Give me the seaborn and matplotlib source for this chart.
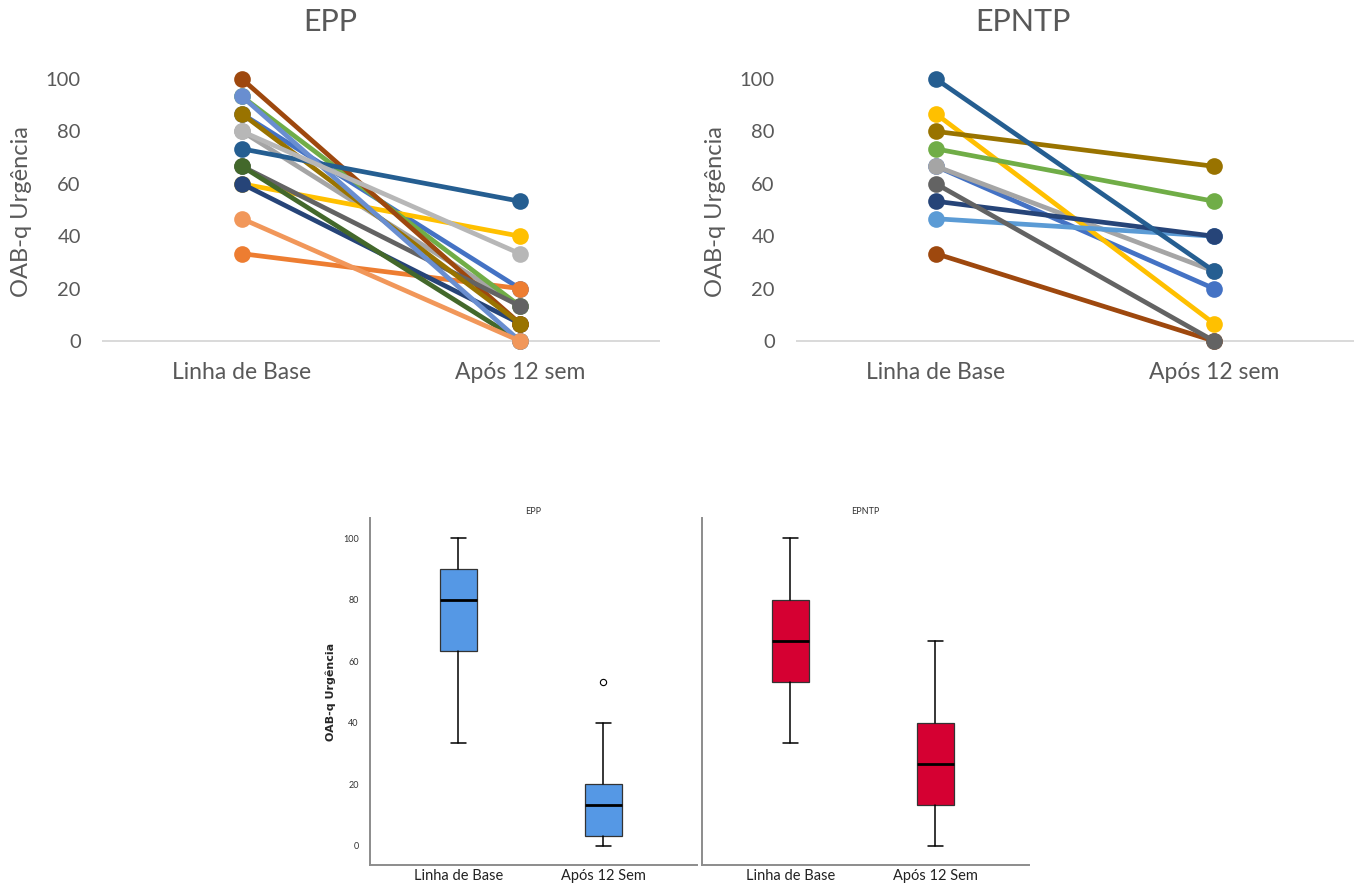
import matplotlib
matplotlib.use("Agg")
import matplotlib.pyplot as plt
import numpy as np
import pandas as pd
import seaborn as sns

sns.set_theme(style="white")
plt.rcParams["font.family"] = ["Lato", "DejaVu Sans"]

W, H = 1356, 886

# ── Dados: gráficos de linhas (um valor por participante) ─────────────────────
tempos = ["Linha de Base", "Após 12 sem"]

epp_base = [86.67, 33.33, 80, 60, 93.33, 60, 100, 66.67, 86.67, 73.33, 66.67, 93.33, 46.67, 80]
epp_12 = [20, 20, 13.33, 40, 13.33, 6.67, 6.67, 13.33, 6.67, 53.33, 0, 0, 0, 33.33]
epp_cores = ["#4472C4", "#ED7D31", "#A5A5A5", "#FFC000", "#70AD47", "#264478", "#9E480E",
             "#636363", "#997300", "#255E91", "#43682B", "#698ED0", "#F1975A", "#B7B7B7"]

epntp_base = [66.67, 66.67, 86.67, 46.67, 73.33, 53.33, 33.33, 60, 80, 100]
epntp_12 = [20, 26.67, 6.67, 40, 53.33, 40, 0, 0, 66.67, 26.67]
epntp_cores = ["#4472C4", "#A5A5A5", "#FFC000", "#5B9BD5", "#70AD47", "#264478", "#9E480E",
               "#636363", "#997300", "#255E91"]

# ── Dados: boxplots (estatísticas) ────────────────────────────────────────────
box_tempos = ["Linha de Base", "Após 12 Sem"]
epp_med = [80, 13.33]
epp_q1 = [63.33, 3.33]
epp_q3 = [90, 20]
epp_min = [33.33, 0]
epp_max = [100, 40]
epp_out = [[], [53.33]]

epntp_med = [66.67, 26.67]
epntp_q1 = [53.33, 13.33]
epntp_q3 = [80, 40]
epntp_min = [33.33, 0]
epntp_max = [100, 66.67]
epntp_out = [[], []]


def long_df(base, apos):
    rows = []
    for i, (b, a) in enumerate(zip(base, apos)):
        rows.append({"id": i, "tempo": tempos[0], "valor": b})
        rows.append({"id": i, "tempo": tempos[1], "valor": a})
    return pd.DataFrame(rows)


def fx(px):
    return px / W


def fy(py):
    return 1 - py / H


fig = plt.figure(figsize=(W / 100, H / 100), dpi=100)

# ═══════════════════════════════════════════════════════════════════════════════
# Linhas – EPP e EPNTP
# ═══════════════════════════════════════════════════════════════════════════════
tops = [
    ("EPP", epp_base, epp_12, epp_cores, 103, 330, 22),
    ("EPNTP", epntp_base, epntp_12, epntp_cores, 797, 1023, 715),
]
for titulo, base, apos, cores, left, tx, lx in tops:
    ax = fig.add_axes([fx(left), fy(341), 556 / W, (341 - 79) / H])
    df = long_df(base, apos)
    sns.lineplot(data=df, x="tempo", y="valor", hue="id", palette=cores,
                 marker="o", markersize=12, markeredgewidth=0, linewidth=3.4,
                 sort=False, legend=False, clip_on=False, ax=ax)
    ax.set_xlim(-0.5, 1.5)
    ax.set_ylim(0, 100)
    ax.set_yticks([0, 20, 40, 60, 80, 100])
    ax.set_xlabel("")
    ax.set_ylabel("")
    for s in ["left", "right", "top"]:
        ax.spines[s].set_visible(False)
    ax.spines["bottom"].set_color("#D9D9D9")
    ax.spines["bottom"].set_linewidth(1.4)
    ax.spines["bottom"].set_zorder(0)
    ax.tick_params(axis="both", length=0, labelcolor="#595959")
    ax.tick_params(axis="y", pad=16, labelsize=14.5)
    ax.tick_params(axis="x", pad=15, labelsize=16.5)
    ax.patch.set_alpha(0)
    fig.text(fx(tx), fy(22), titulo, fontsize=22, color="#595959",
             ha="center", va="center")
    fig.text(fx(lx), fy(212), "OAB-q Urgência", fontsize=17, color="#595959",
             rotation=90, ha="center", va="center")

# ═══════════════════════════════════════════════════════════════════════════════
# Boxplots – SPSS
# ═══════════════════════════════════════════════════════════════════════════════
bottoms = [
    ("EPP", "#5598E5", epp_med, epp_q1, epp_q3, epp_min, epp_max, epp_out, 370),
    ("EPNTP", "#D50032", epntp_med, epntp_q1, epntp_q3, epntp_min, epntp_max, epntp_out, 702),
]
narrow = ["Liberation Sans Narrow", "Lato", "DejaVu Sans"]
for k, (titulo, cor, med, q1, q3, lo, hi, out, left) in enumerate(bottoms):
    ax = fig.add_axes([fx(left), fy(865), 327 / W, (865 - 518) / H])
    stats = []
    for i in range(len(box_tempos)):
        stats.append({"med": med[i], "q1": q1[i], "q3": q3[i],
                      "whislo": lo[i], "whishi": hi[i], "fliers": out[i],
                      "label": box_tempos[i]})
    ax.bxp(stats, positions=[0, 1], widths=0.25, patch_artist=True,
           showfliers=True, capwidths=0.1,
           boxprops=dict(facecolor=cor, edgecolor="#333333", linewidth=0.9),
           medianprops=dict(color="black", linewidth=2),
           whiskerprops=dict(color="black", linewidth=1.1),
           capprops=dict(color="black", linewidth=1.1),
           flierprops=dict(marker="o", markersize=4.5, markerfacecolor="white",
                           markeredgecolor="black", markeredgewidth=0.8))
    ax.set_xlim(-0.61, 1.645)
    ax.set_ylim(-6.2, 106.5)
    ax.set_xticks([0, 1])
    ax.set_xticklabels(box_tempos, fontsize=10.5, family=narrow, color="#222222")
    ax.spines["right"].set_visible(False)
    ax.spines["top"].set_visible(False)
    for s in ["left", "bottom"]:
        ax.spines[s].set_color("#8C8C8C")
        ax.spines[s].set_linewidth(1.4)
    ax.tick_params(axis="both", length=0)
    ax.tick_params(axis="x", pad=3)
    if k == 0:
        ax.set_yticks([0, 20, 40, 60, 80, 100])
        ax.set_yticklabels([0, 20, 40, 60, 80, 100], fontsize=6.5, family=narrow,
                           color="#333333")
        ax.tick_params(axis="y", pad=8)
        ax.set_ylabel("OAB-q Urgência", fontsize=8, fontweight="bold",
                      family=["DejaVu Sans"], labelpad=5)
    else:
        ax.set_yticks([])
    ax.set_title(titulo, fontsize=6.5, family=narrow, color="#333333", pad=3)

fig.savefig("out.png", dpi=100)
